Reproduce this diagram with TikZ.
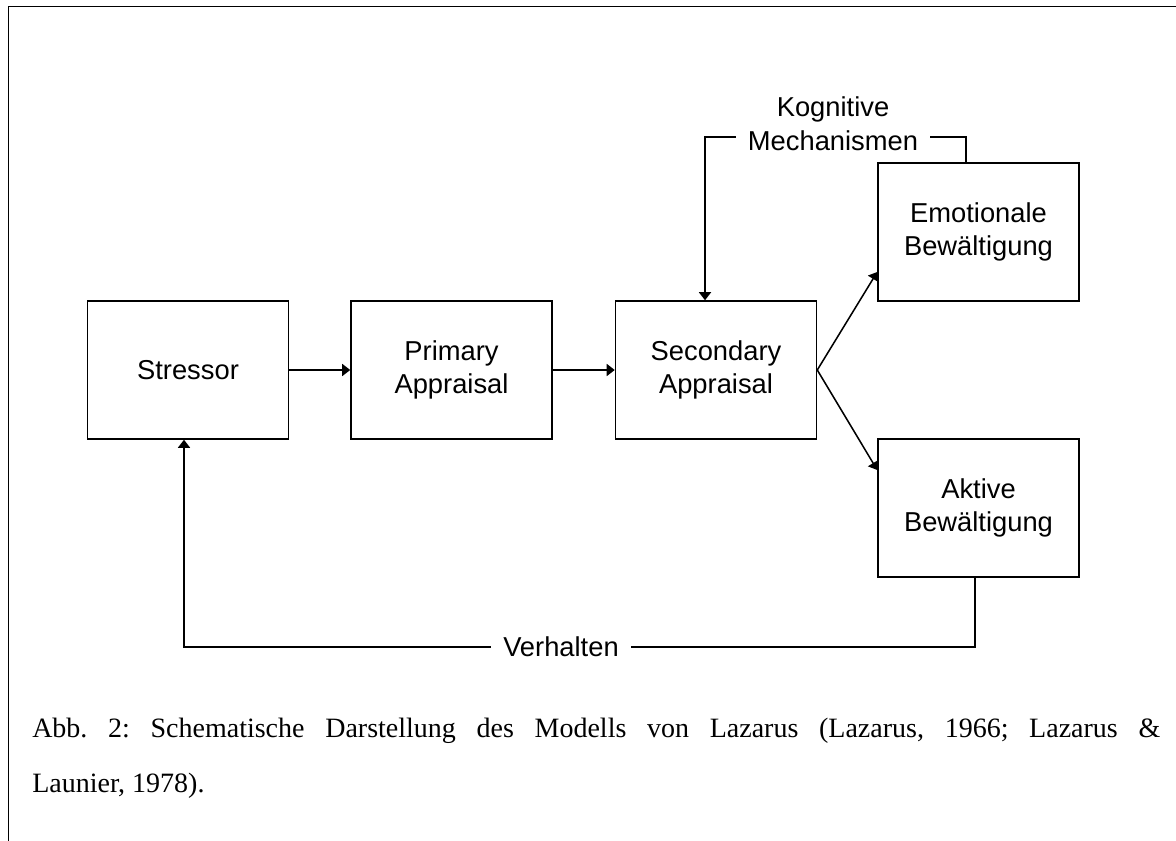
\documentclass[tikz,border=0pt]{standalone}
\usepackage{fontspec}
\setmainfont{Liberation Serif}
\newfontfamily\arialfont{Liberation Sans}
\usetikzlibrary{arrows.meta,calc}
\tikzset{
  box/.style={draw, line width=1.15pt, minimum width=150.75pt, minimum height=103.5pt,
    inner sep=0pt, align=center, font=\arialfont\fontsize{20.5}{24.75}\selectfont},
  arr/.style={line width=1.15pt, -{Triangle[length=6pt,width=9pt]}},
  lbl/.style={fill=white, inner xsep=9pt, inner ysep=1pt, align=center,
    font=\arialfont\fontsize{20.5}{25.5}\selectfont},
  captext/.style={inner sep=0pt, anchor=base west, font=\fontsize{21}{21}\selectfont},
  frameline/.style={line width=1.3pt}
}
\begin{document}
\frenchspacing
\begin{tikzpicture}[x=0.75pt,y=-0.75pt]
\useasboundingbox (0,0) rectangle (1176,841);
\draw[frameline] (8.5,841) -- (8.5,6.5) -- (1176,6.5);

\node[box] (str) at (188,370) {Stressor};
\node[box] (pri) at (451.5,370) {Primary\\Appraisal};
\node[box] (sec) at (716,370) {Secondary\\Appraisal};
\node[box] (emo) at (978.5,232) {Emotionale\\Bewältigung};
\node[box] (akt) at (978.5,508) {Aktive\\Bewältigung};

\draw[arr] (str.east) -- (pri.west);
\draw[arr] (pri.east) -- (sec.west);
\draw[arr] (sec.east) -- ($(emo.west)+(0,40)$);
\draw[arr] (sec.east) -- ($(akt.west)+(0,-38)$);

\coordinate (kt) at (966,137);
\coordinate (kl) at (705,137);
\draw[arr] (emo.north -| kt) -- (kt) -- (kl) -- (kl |- sec.north);
\node[lbl] (kog) at (833,124) {Kognitive\\Mechanismen};

\coordinate (vr) at (975,647);
\coordinate (vl) at (184,647);
\draw[arr] (akt.south -| vr) -- (vr) -- (vl) -- (vl |- str.south);
\node[lbl] (ver) at (561,647) {Verhalten};

\node[captext] (cap1) at (32,737) {\makebox[846pt][s]{Abb. 2: Schematische Darstellung des Modells von Lazarus (Lazarus, 1966; Lazarus \&}};
\node[captext] (cap2) at (32,792) {Launier, 1978).};
\end{tikzpicture}
\end{document}
